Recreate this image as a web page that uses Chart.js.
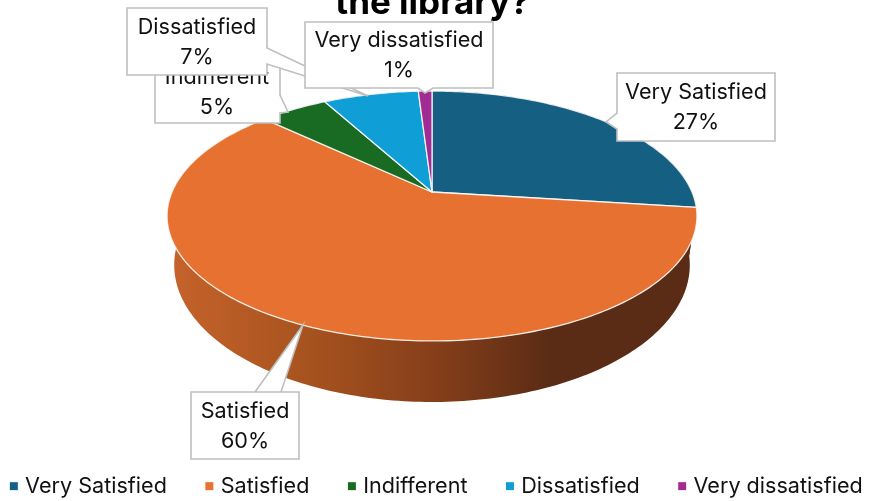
<!DOCTYPE html>
<html>
<head>
<meta charset="utf-8">
<style>
    html, body { margin: 0; padding: 0; background: #fff; overflow: hidden; }
    canvas { display: block; }
</style>
<script src="https://cdn.jsdelivr.net/npm/chart.js@4"></script>
</head>
<body>
<canvas id="chart1" width="870" height="501"></canvas>
<script>
const titleText = 'the library?';
const categories = ['Very Satisfied', 'Satisfied', 'Indifferent', 'Dissatisfied', 'Very dissatisfied'];
const shares = [27, 60, 5, 7, 1];
const sliceColors = ['#156082', '#E77130', '#196B24', '#0F9ED5', '#A02B93'];

const fontName = 'Inter, "Noto Sans", sans-serif';
const labelSize = 21.6;

// perspective of the disc: the same tilt for the top face and the bottom rim
const tilt = -0.192;
const cx = 432;
const topFace = { c: 260, a: 83.5, b: 192 };
const bottomRim = { c: 253, a: 86.1, b: 238.7 };

// wall shading, left to right
const wallStops = [[0, '#C6632B'], [0.25, '#A9541F'], [0.5, '#873F1A'], [0.72, '#5B2C15'], [1, '#5B2C15']];

// callouts: box, pointer and text centre. Drawn in this order (index in categories)
const callouts = [
    { i: 0, box: [617, 73, 775, 141], base: [[617, 113], [617, 129]], tip: [606, 122], tx: 696, ty: 92 },
    { i: 1, box: [191, 392, 299, 459], base: [[281, 392], [255, 392]], tip: [303, 325], tx: 245, ty: 411 },
    { i: 2, box: [155, 57, 280, 123], base: [[280, 95], [280, 113]], tip: [288, 112], tx: 217, ty: 77 },
    { i: 3, box: [127, 8, 267, 75], base: [[267, 48], [267, 64]], tip: [368, 96], tx: 197, ty: 27 },
    { i: 4, box: [305, 22, 493, 88], base: [[433, 88], [418, 88]], tip: [425, 93], tx: 399, ty: 40 }
];

function project(angle, face) {
    const u = Math.cos(angle);
    const v = Math.sin(angle);
    const w = 1 + tilt * v;
    return [cx + face.c * u / w, (face.a * v + face.b) / w];
}

function rimPath(ctx, start, end, face, first) {
    const steps = Math.max(2, Math.ceil(Math.abs(end - start) / (Math.PI / 180)));
    for (let s = 0; s <= steps; s++) {
        const p = project(start + (end - start) * s / steps, face);
        if (s === 0 && first) ctx.moveTo(p[0], p[1]);
        else ctx.lineTo(p[0], p[1]);
    }
}

// draws the arcs computed by the pie controller as a tilted 3D disc
const discPlugin = {
    id: 'disc',
    afterLayout(chart) {
        // title sits a little left of the legend in the reference
        chart.titleBlock.left -= 11;
    },
    beforeDatasetDraw(chart, args) {
        const ctx = chart.ctx;
        const arcs = args.meta.data;

        const wall = ctx.createLinearGradient(167, 0, 697, 0);
        wallStops.forEach(s => wall.addColorStop(s[0], s[1]));

        ctx.save();
        arcs.forEach(arc => {
            ctx.beginPath();
            rimPath(ctx, arc.startAngle, arc.endAngle, topFace, true);
            rimPath(ctx, arc.endAngle, arc.startAngle, bottomRim, false);
            ctx.closePath();
            ctx.fillStyle = wall;
            ctx.fill();
        });

        arcs.forEach((arc, i) => {
            ctx.beginPath();
            ctx.moveTo(cx, topFace.b);
            rimPath(ctx, arc.startAngle, arc.endAngle, topFace, false);
            ctx.closePath();
            ctx.fillStyle = sliceColors[i];
            ctx.fill();
            ctx.strokeStyle = 'rgba(255,255,255,0.85)';
            ctx.lineWidth = 1.3;
            ctx.lineJoin = 'round';
            ctx.stroke();
        });
        ctx.restore();
        return false;
    }
};

function calloutPath(ctx, c) {
    const [l, t, r, b] = c.box;
    const corners = [[l, t], [r, t], [r, b], [l, b]];
    const pts = [];
    // walk round the box and put the pointer on the side its base sits on
    corners.forEach((p, n) => {
        pts.push(p);
        const onSide = (n === 0 && c.base[0][1] === t) || (n === 1 && c.base[0][0] === r) ||
            (n === 2 && c.base[0][1] === b) || (n === 3 && c.base[0][0] === l);
        if (onSide) {
            pts.push(c.base[n === 3 ? 1 : 0], c.tip, c.base[n === 3 ? 0 : 1]);
        }
    });
    ctx.beginPath();
    pts.forEach((p, n) => (n ? ctx.lineTo(p[0], p[1]) : ctx.moveTo(p[0], p[1])));
    ctx.closePath();
}

const calloutPlugin = {
    id: 'callouts',
    afterDraw(chart) {
        const ctx = chart.ctx;
        ctx.save();
        callouts.forEach(c => {
            calloutPath(ctx, c);
            ctx.fillStyle = '#fff';
            ctx.fill();
            ctx.strokeStyle = '#BFBFBF';
            ctx.lineWidth = 1.6;
            ctx.lineJoin = 'miter';
            ctx.stroke();

            ctx.fillStyle = '#111';
            ctx.font = labelSize + 'px ' + fontName;
            ctx.textAlign = 'center';
            ctx.textBaseline = 'middle';
            ctx.fillText(categories[c.i], c.tx, c.ty);
            ctx.fillText(shares[c.i] + '%', c.tx, c.ty + 30);
        });
        ctx.restore();
    }
};

new Chart(document.getElementById('chart1').getContext('2d'), {
    type: 'pie',
    data: {
        labels: categories,
        datasets: [{
            data: shares,
            backgroundColor: sliceColors,
            borderColor: '#fff',
            borderWidth: 1
        }]
    },
    options: {
        responsive: false,
        animation: false,
        // negative sides give the legend room for one row with wide gaps
        layout: { padding: { left: -30, right: -36, top: 0, bottom: -6 } },
        plugins: {
            tooltip: { enabled: false },
            title: {
                display: true,
                text: titleText,
                color: '#000',
                font: { family: fontName, size: 35, weight: 'bold' },
                padding: { top: -18, bottom: 10 }
            },
            legend: {
                position: 'bottom',
                labels: {
                    color: '#111',
                    font: { family: fontName, size: labelSize },
                    usePointStyle: true,
                    pointStyle: 'rect',
                    boxWidth: 1,
                    boxHeight: 9,
                    padding: 42
                }
            }
        }
    },
    plugins: [discPlugin, calloutPlugin]
});
</script>
</body>
</html>
